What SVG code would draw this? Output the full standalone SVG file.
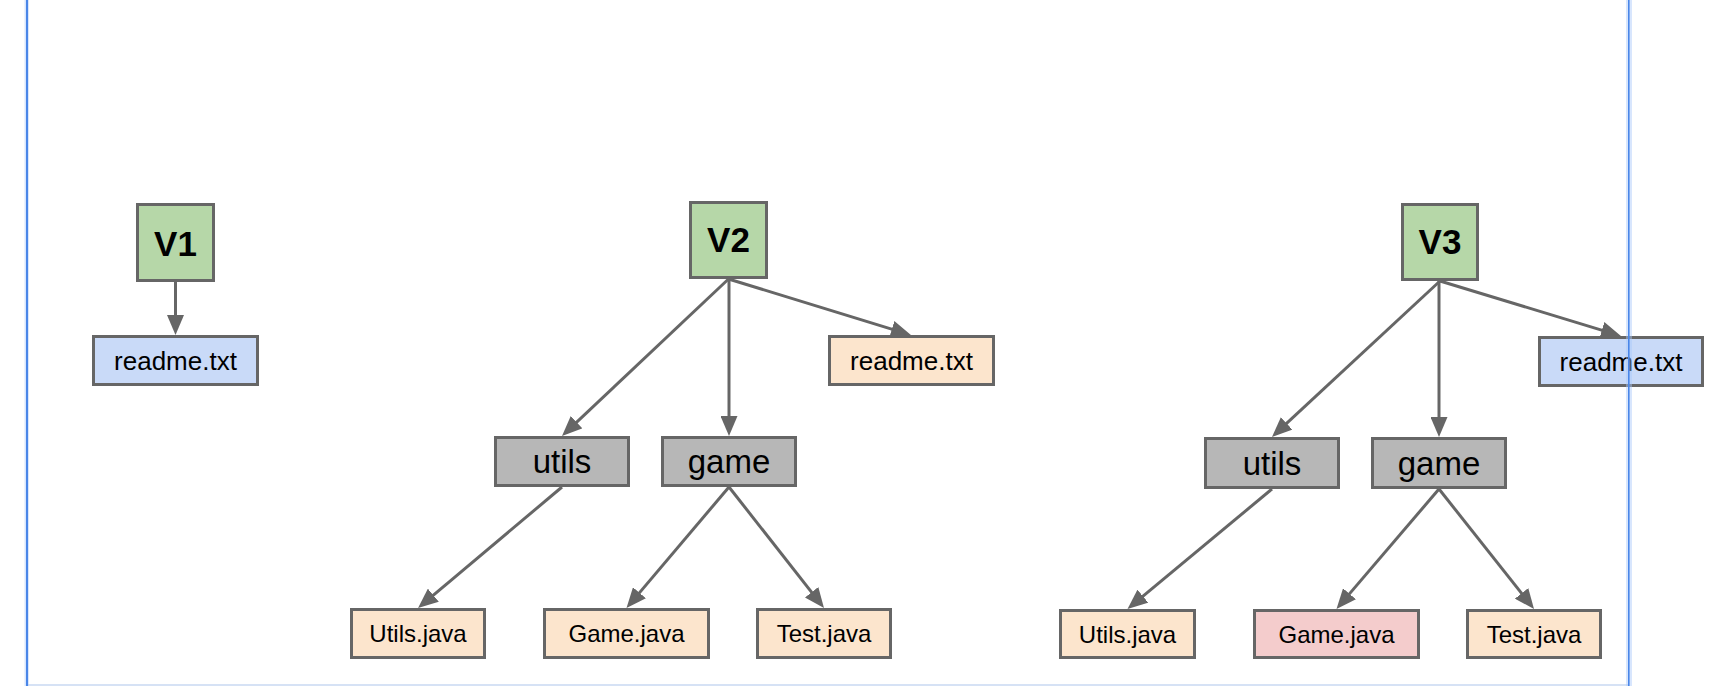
<svg xmlns="http://www.w3.org/2000/svg" width="1712" height="686" viewBox="0 0 1712 686">
  <style>
    .box { stroke: #666666; stroke-width: 3; }
    .ver { fill: #b6d7a8; }
    .blue { fill: #c9daf8; }
    .file { fill: #fce5cd; }
    .dir { fill: #b7b7b7; }
    .changed { fill: #f4cccc; }
    text { font-family: "Liberation Sans", Arial, sans-serif; fill: #000000; text-anchor: middle; }
    .vt { font-size: 35px; font-weight: bold; }
    .dt { font-size: 33px; }
    .rt { font-size: 26px; }
    .ft { font-size: 24px; }
    .edge { stroke: #666666; stroke-width: 3; fill: none; marker-end: url(#head); }
    .halo { fill: #a8c7fa; fill-opacity: 0.45; }
    .guide { fill: #4a86e8; }
  </style>
  <defs>
    <marker id="head" markerUnits="userSpaceOnUse" markerWidth="20" markerHeight="17" refX="10" refY="8.5" orient="auto">
      <path d="M0,0 L20,8.5 L0,17 z" fill="#666666"/>
    </marker>
  </defs>

  <rect x="0" y="0" width="1712" height="686" fill="#ffffff"/>

  <!-- connectors -->
  <g id="connectors">
    <line class="edge" x1="175.5" y1="282" x2="175.5" y2="325"/>

    <line class="edge" x1="728.5" y1="279" x2="569.3" y2="429.1"/>
    <line class="edge" x1="729" y1="279" x2="729" y2="426"/>
    <line class="edge" x1="728.5" y1="279" x2="901.4" y2="332.1"/>
    <line class="edge" x1="562" y1="487" x2="425.7" y2="601.6"/>
    <line class="edge" x1="729" y1="487" x2="633" y2="600.4"/>
    <line class="edge" x1="729" y1="487" x2="817.8" y2="600.1"/>

    <line class="edge" x1="1440" y1="281" x2="1279.3" y2="430.2"/>
    <line class="edge" x1="1439" y1="281" x2="1439" y2="427"/>
    <line class="edge" x1="1440" y1="281" x2="1611.4" y2="333.1"/>
    <line class="edge" x1="1272" y1="489" x2="1135.2" y2="602.6"/>
    <line class="edge" x1="1439" y1="489" x2="1343" y2="601.4"/>
    <line class="edge" x1="1439" y1="489" x2="1527.8" y2="601.2"/>
  </g>

  <!-- version 1 -->
  <g id="v1">
    <rect class="box ver" x="137.5" y="204.5" width="76" height="76"/>
    <text class="vt" x="175.5" y="256">V1</text>
  </g>
  <g id="v1-readme">
    <rect class="box blue" x="93.5" y="336.5" width="164" height="48"/>
    <text class="rt" x="175.5" y="370">readme.txt</text>
  </g>

  <!-- version 2 -->
  <g id="v2">
    <rect class="box ver" x="690.5" y="202.5" width="76" height="75"/>
    <text class="vt" x="728.5" y="252">V2</text>
  </g>
  <g id="v2-readme">
    <rect class="box file" x="829.5" y="336.5" width="164" height="48"/>
    <text class="rt" x="911.5" y="370">readme.txt</text>
  </g>
  <g id="v2-utils">
    <rect class="box dir" x="495.5" y="437.5" width="133" height="48"/>
    <text class="dt" x="562" y="473">utils</text>
  </g>
  <g id="v2-game">
    <rect class="box dir" x="662.5" y="437.5" width="133" height="48"/>
    <text class="dt" x="729" y="473">game</text>
  </g>
  <g id="v2-utils-java">
    <rect class="box file" x="351.5" y="609.5" width="133" height="48"/>
    <text class="ft" x="418" y="642">Utils.java</text>
  </g>
  <g id="v2-game-java">
    <rect class="box file" x="544.5" y="609.5" width="164" height="48"/>
    <text class="ft" x="626.5" y="642">Game.java</text>
  </g>
  <g id="v2-test-java">
    <rect class="box file" x="757.5" y="609.5" width="133" height="48"/>
    <text class="ft" x="824" y="642">Test.java</text>
  </g>

  <!-- version 3 -->
  <g id="v3">
    <rect class="box ver" x="1402.5" y="204.5" width="75" height="75"/>
    <text class="vt" x="1440" y="254">V3</text>
  </g>
  <g id="v3-readme">
    <rect class="box blue" x="1539.5" y="337.5" width="163" height="48"/>
    <text class="rt" x="1621" y="371">readme.txt</text>
  </g>
  <g id="v3-utils">
    <rect class="box dir" x="1205.5" y="438.5" width="133" height="49"/>
    <text class="dt" x="1272" y="475">utils</text>
  </g>
  <g id="v3-game">
    <rect class="box dir" x="1372.5" y="438.5" width="133" height="49"/>
    <text class="dt" x="1439" y="475">game</text>
  </g>
  <g id="v3-utils-java">
    <rect class="box file" x="1060.5" y="610.5" width="134" height="47"/>
    <text class="ft" x="1127.5" y="642.5">Utils.java</text>
  </g>
  <g id="v3-game-java">
    <rect class="box changed" x="1254.5" y="610.5" width="164" height="47"/>
    <text class="ft" x="1336.5" y="642.5">Game.java</text>
  </g>
  <g id="v3-test-java">
    <rect class="box file" x="1467.5" y="610.5" width="133" height="47"/>
    <text class="ft" x="1534" y="642.5">Test.java</text>
  </g>

  <!-- page frame guides -->
  <g id="frame">
    <rect x="26" y="684" width="1603" height="2" fill="#d6e2f5"/>
    <rect class="halo" x="24.5" y="0" width="4.5" height="686"/>
    <rect class="guide" x="26" y="0" width="2" height="686"/>
    <rect class="halo" x="1626" y="0" width="6" height="686"/>
    <rect class="guide" x="1628" y="0" width="1.6" height="686"/>
  </g>
</svg>
